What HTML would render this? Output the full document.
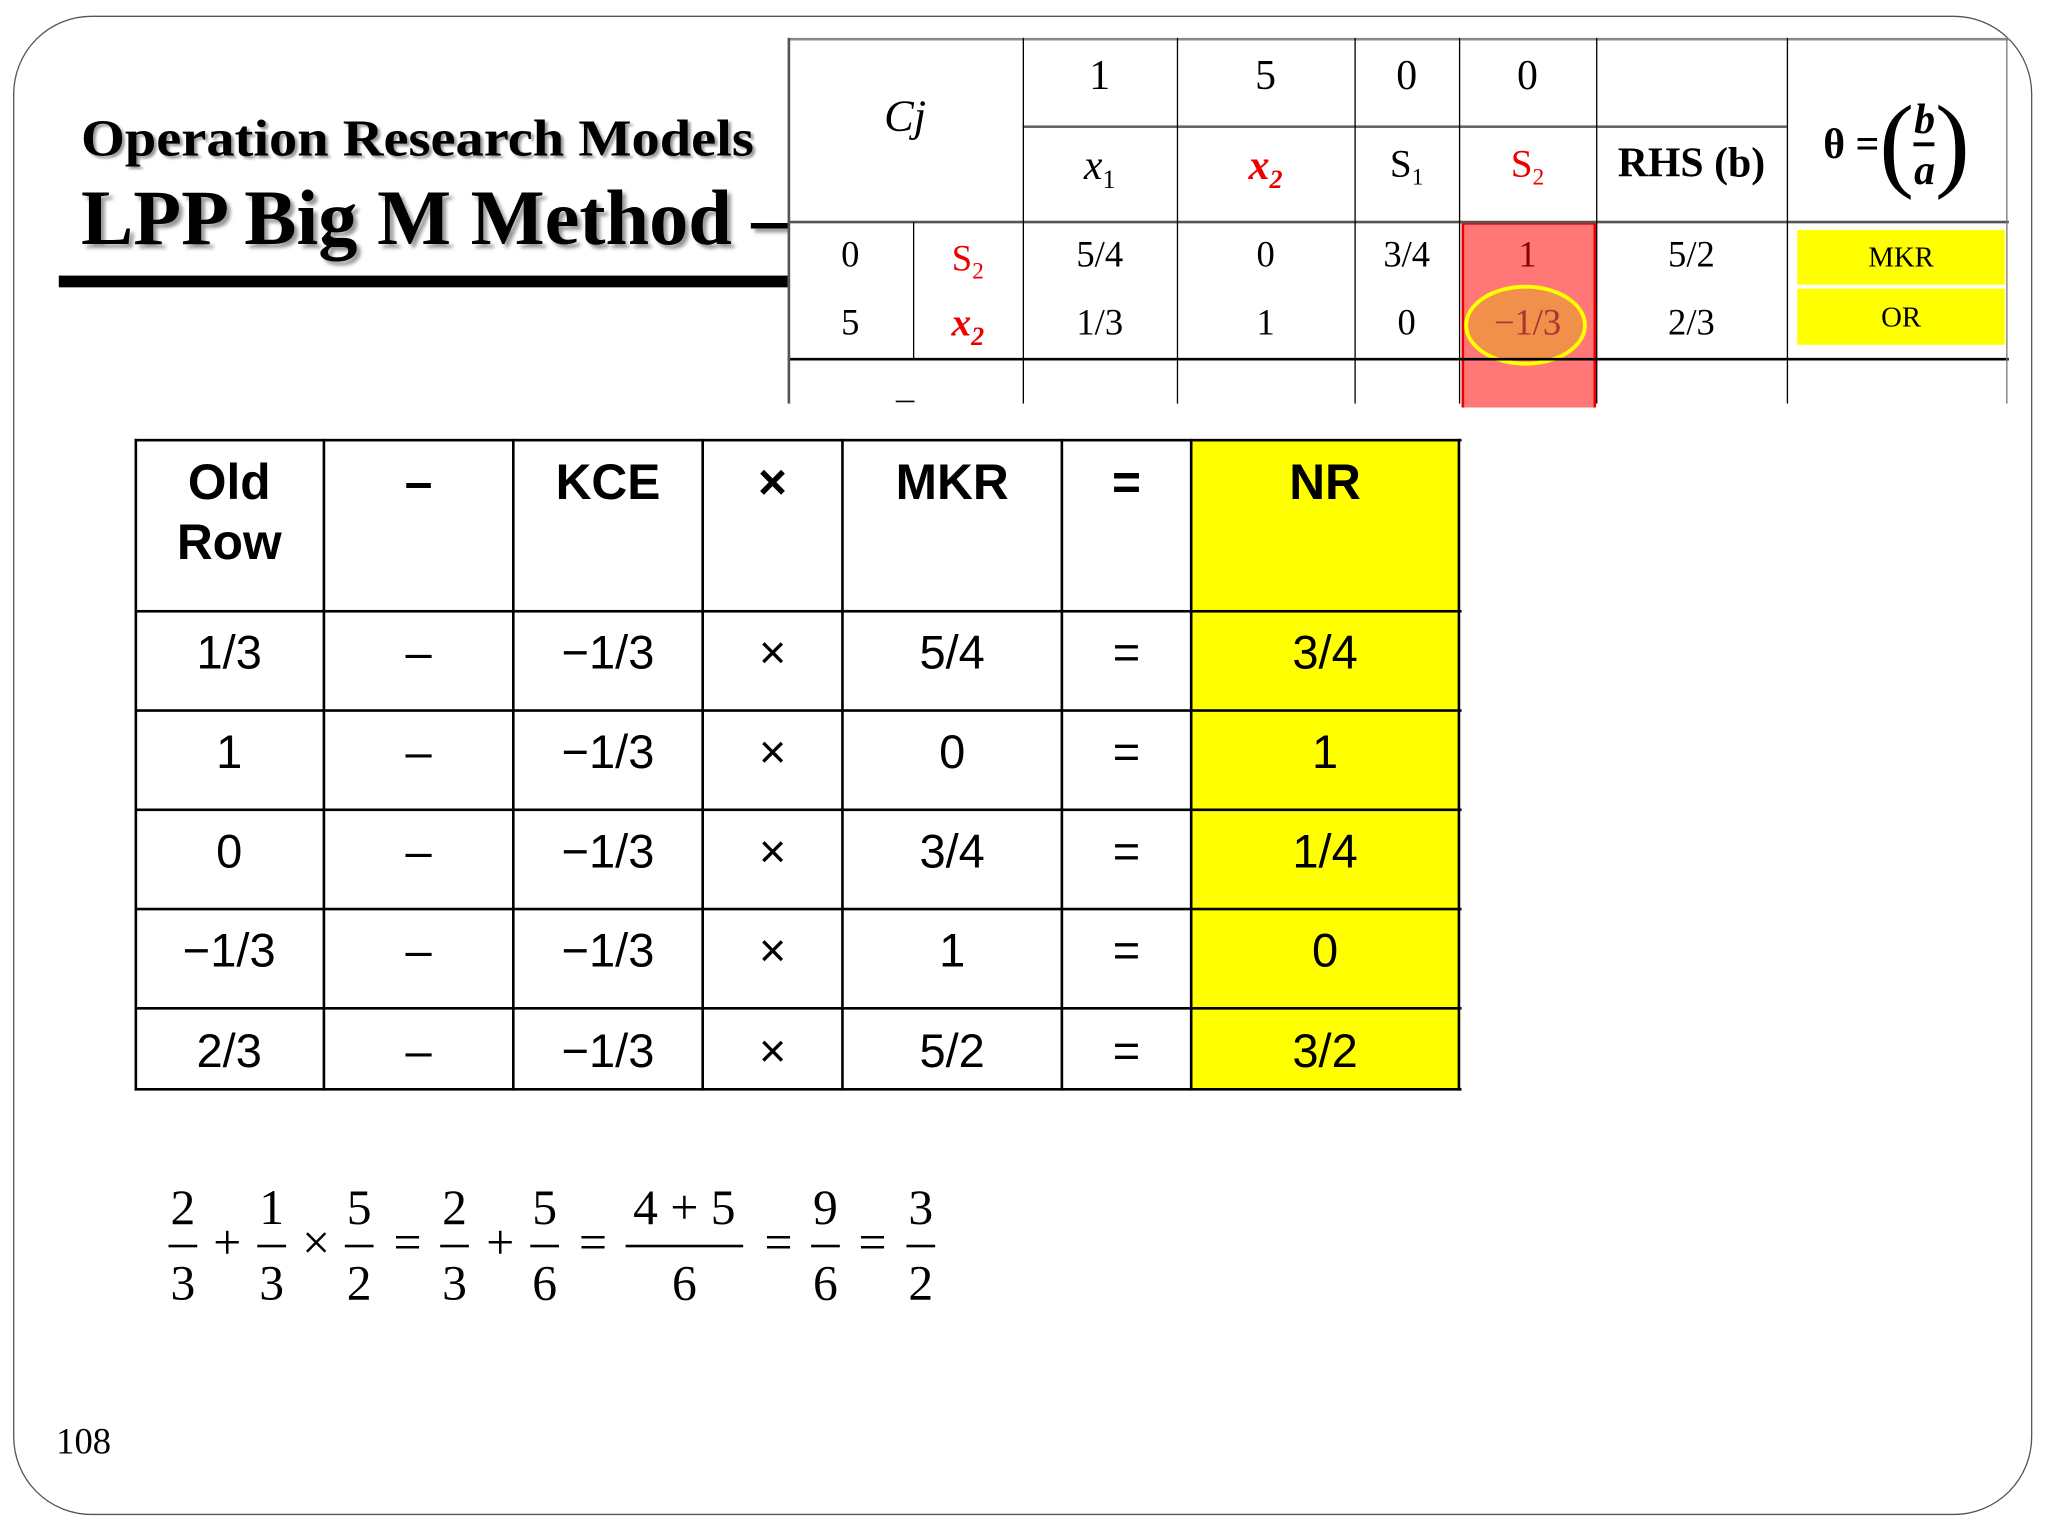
<!DOCTYPE html>
<html><head><meta charset="utf-8"><style>
html,body{margin:0;padding:0;background:#fff;width:2048px;height:1536px;overflow:hidden}
#s{position:absolute;left:0;top:0;width:1568px;height:1176px;transform:scale(1.30612);transform-origin:0 0}
.a{position:absolute}
.serif{font-family:"Liberation Serif",serif}
.sans{font-family:"Liberation Sans",sans-serif}
.c{position:absolute;display:flex;align-items:center;justify-content:center;text-align:center}
.hl{position:absolute;background:#000;height:2px}
.vl{position:absolute;background:#000;width:2px}
.fr{display:inline-flex;flex-direction:column;align-items:center;vertical-align:middle;margin:0 4px}
.fr span{line-height:42px}
.fr i{display:block;height:2px;background:#000;width:100%;font-style:normal}
sub{vertical-align:-0.35em;line-height:0}
.fx{position:absolute;top:0;transform:translateX(-50%);display:flex;flex-direction:column;align-items:center}
.fx span{line-height:56px}
.fx i{display:block;height:2px;background:#000;width:100%}
.op{position:absolute;top:30px;transform:translateX(-50%);line-height:50px}
</style></head><body>
<div id="s">
<div class="a" style="left:10px;top:12px;width:1544px;height:1146px;border:1.5px solid #555;border-radius:60px"></div>
<div class="a serif" style="left:62px;top:82px;font-size:40px;font-weight:bold;text-shadow:2px 2px 2px #999;transform:scaleX(1.08);transform-origin:0 0;white-space:nowrap">Operation Research Models</div>
<div class="a serif" style="left:62px;top:133px;font-size:60px;font-weight:bold;text-shadow:3px 3px 3px #999;white-space:nowrap">LPP Big M Method –</div>
<div class="a" style="left:45px;top:211px;width:558px;height:9px;background:#000"></div>

<div class="serif">
<div class="a" style="left:604px;top:29px;width:934px;height:281px;background:#fff"></div>
<div class="a" style="left:1119px;top:170px;width:99px;height:140px;background:#f77;border:2px solid #e00;border-bottom:none"></div>
<div class="a" style="left:1376px;top:176px;width:159px;height:42px;background:#ff0;display:flex;align-items:center;justify-content:center;font-size:22px">MKR</div>
<div class="a" style="left:1376px;top:221px;width:159px;height:43px;background:#ff0;display:flex;align-items:center;justify-content:center;font-size:22px">OR</div>
<div class="a" style="left:1121px;top:218px;width:94px;height:62px;border-radius:50%;background:#f0904a;border:3px solid #ff0;box-sizing:border-box"></div>
<div class="hl" style="left:603px;top:29px;width:935px;background:#888"></div>
<div class="hl" style="left:783px;top:96px;width:585px;background:#666"></div>
<div class="hl" style="left:603px;top:169px;width:935px;background:#555"></div>
<div class="hl" style="left:603px;top:274px;width:935px"></div>
<div class="vl" style="left:603px;top:29px;height:280px;background:#555"></div>
<div class="vl" style="left:699px;top:170px;height:105px;width:1px"></div>
<div class="vl" style="left:783px;top:29px;height:280px;width:1px"></div>
<div class="vl" style="left:901px;top:29px;height:280px;width:1px"></div>
<div class="vl" style="left:1037px;top:29px;height:280px;width:1px"></div>
<div class="vl" style="left:1117px;top:29px;height:280px;width:1px"></div>
<div class="vl" style="left:1222px;top:29px;height:280px;width:1px"></div>
<div class="vl" style="left:1368px;top:29px;height:280px;width:1px"></div>
<div class="vl" style="left:1536px;top:29px;height:280px;width:1px;background:#777"></div>
<div class="c" style="left:603px;top:20px;width:180px;height:140px;font-size:34px;font-style:italic">Cj</div>
<div class="c" style="left:783px;top:24px;width:118px;height:67px;font-size:32px">1</div>
<div class="c" style="left:901px;top:24px;width:136px;height:67px;font-size:32px">5</div>
<div class="c" style="left:1037px;top:24px;width:80px;height:67px;font-size:32px">0</div>
<div class="c" style="left:1117px;top:24px;width:105px;height:67px;font-size:32px">0</div>
<div class="c" style="left:783px;top:90px;width:118px;height:72px;font-size:32px;font-style:italic"><span>x<sub style="font-size:20px;font-style:normal">1</sub></span></div>
<div class="c" style="left:901px;top:90px;width:136px;height:72px;font-size:32px;font-style:italic;font-weight:bold;color:#e00"><span>x<sub style="font-size:20px">2</sub></span></div>
<div class="c" style="left:1037px;top:90px;width:80px;height:72px;font-size:30px"><span>S<sub style="font-size:18px">1</sub></span></div>
<div class="c" style="left:1117px;top:90px;width:105px;height:72px;font-size:30px;color:#e00"><span>S<sub style="font-size:18px">2</sub></span></div>
<div class="c" style="left:1222px;top:88px;width:146px;height:72px;font-size:32px;font-weight:bold">RHS (b)</div>
<div class="c" style="left:1368px;top:40px;width:168px;height:140px;font-size:32px;font-weight:bold">θ =<span style="font-size:80px;font-weight:normal">(</span><span class="fr" style="margin:0"><span style="font-style:italic;line-height:36px">b</span><i style="height:3px"></i><span style="font-style:italic;line-height:36px">a</span></span><span style="font-size:80px;font-weight:normal">)</span></div>
<div class="c" style="left:603px;top:170px;width:96px;height:52px;font-size:28px">0</div>
<div class="c" style="left:603px;top:222px;width:96px;height:52px;font-size:28px">5</div>
<div class="c" style="left:699px;top:170px;width:84px;height:58px;font-size:28px;color:#e00"><span>S<sub style="font-size:18px">2</sub></span></div>
<div class="c" style="left:699px;top:220px;width:84px;height:56px;font-size:30px;color:#e00;font-weight:bold;font-style:italic"><span>x<sub style="font-size:20px">2</sub></span></div>
<div class="c" style="left:783px;top:170px;width:118px;height:52px;font-size:28px">5/4</div>
<div class="c" style="left:783px;top:222px;width:118px;height:52px;font-size:28px">1/3</div>
<div class="c" style="left:901px;top:170px;width:136px;height:52px;font-size:28px">0</div>
<div class="c" style="left:901px;top:222px;width:136px;height:52px;font-size:28px">1</div>
<div class="c" style="left:1037px;top:170px;width:80px;height:52px;font-size:28px">3/4</div>
<div class="c" style="left:1037px;top:222px;width:80px;height:52px;font-size:28px">0</div>
<div class="c" style="left:1117px;top:170px;width:105px;height:52px;font-size:28px;color:#800">1</div>
<div class="c" style="left:1117px;top:222px;width:105px;height:52px;font-size:28px;color:#a33">−1/3</div>
<div class="c" style="left:1222px;top:170px;width:146px;height:52px;font-size:28px">5/2</div>
<div class="c" style="left:1222px;top:222px;width:146px;height:52px;font-size:28px">2/3</div>
<div class="c" style="left:603px;top:290px;width:180px;height:18px;font-size:28px;overflow:hidden;align-items:flex-start">–</div>
</div>

<div class="sans">
<div class="a" style="left:912px;top:337px;width:205px;height:497px;background:#ff0"></div>
<div class="hl" style="left:103px;top:336px;width:1016px"></div>
<div class="hl" style="left:103px;top:467px;width:1016px"></div>
<div class="hl" style="left:103px;top:543px;width:1016px"></div>
<div class="hl" style="left:103px;top:619px;width:1016px"></div>
<div class="hl" style="left:103px;top:695px;width:1016px"></div>
<div class="hl" style="left:103px;top:771px;width:1016px"></div>
<div class="hl" style="left:103px;top:833px;width:1016px"></div>
<div class="vl" style="left:103px;top:336px;height:499px"></div>
<div class="vl" style="left:247px;top:336px;height:499px"></div>
<div class="vl" style="left:392px;top:336px;height:499px"></div>
<div class="vl" style="left:537px;top:336px;height:499px"></div>
<div class="vl" style="left:644px;top:336px;height:499px"></div>
<div class="vl" style="left:812px;top:336px;height:499px"></div>
<div class="vl" style="left:911px;top:336px;height:499px"></div>
<div class="vl" style="left:1116px;top:336px;height:499px"></div>
<div id="rows"></div>
</div>

<div class="a serif" style="left:0;top:897px;width:800px;height:110px;font-size:38px;white-space:nowrap">
<div class="fx" style="left:140px"><span>2</span><i style="width:22px"></i><span>3</span></div>
<div class="op" style="left:174px">+</div>
<div class="fx" style="left:208px"><span>1</span><i style="width:22px"></i><span>3</span></div>
<div class="op" style="left:242px">×</div>
<div class="fx" style="left:275px"><span>5</span><i style="width:22px"></i><span>2</span></div>
<div class="op" style="left:312px">=</div>
<div class="fx" style="left:348px"><span>2</span><i style="width:22px"></i><span>3</span></div>
<div class="op" style="left:383px">+</div>
<div class="fx" style="left:417px"><span>5</span><i style="width:22px"></i><span>6</span></div>
<div class="op" style="left:454px">=</div>
<div class="fx" style="left:524px"><span>4 + 5</span><i style="width:90px"></i><span>6</span></div>
<div class="op" style="left:596px">=</div>
<div class="fx" style="left:632px"><span>9</span><i style="width:22px"></i><span>6</span></div>
<div class="op" style="left:668px">=</div>
<div class="fx" style="left:705px"><span>3</span><i style="width:22px"></i><span>2</span></div>
</div>
<div class="a serif" style="left:43px;top:1089px;font-size:28px">108</div>
</div>
<script>
const cols=[103,248,393,538,645,813,912,1117];
const heads=["Old<br>Row","–","KCE","×","MKR","=","NR"];
const oldRow=["1/3","1","0","−1/3","2/3"];
const kce=["−1/3","−1/3","−1/3","−1/3","−1/3"];
const mkr=["5/4","0","3/4","1","5/2"];
const nr=["3/4","1","1/4","0","3/2"];
const rowY=[468,544,620,696,772,834];
const host=document.getElementById('rows');
function cell(x,y,w,h,html,style){
  const d=document.createElement('div');
  d.className='c';
  d.style.cssText=`left:${x}px;top:${y}px;width:${w}px;height:${h}px;`+style;
  d.innerHTML=html;
  
  
  host.appendChild(d);
}
heads.forEach((h,i)=>{cell(cols[i],337,cols[i+1]-cols[i],100,h,'font-size:38px;font-weight:bold;line-height:46px;align-items:flex-start;padding-top:10px;box-sizing:border-box;');});
for(let r=0;r<5;r++){
  const vals=[oldRow[r],"–",kce[r],"×",mkr[r],"=",nr[r]];
  const off=r===4?2:-6;
  vals.forEach((v,i)=>cell(cols[i],rowY[r]+off,cols[i+1]-cols[i],rowY[r+1]-rowY[r],v,'font-size:36px;'));
}
</script>
</body></html>
